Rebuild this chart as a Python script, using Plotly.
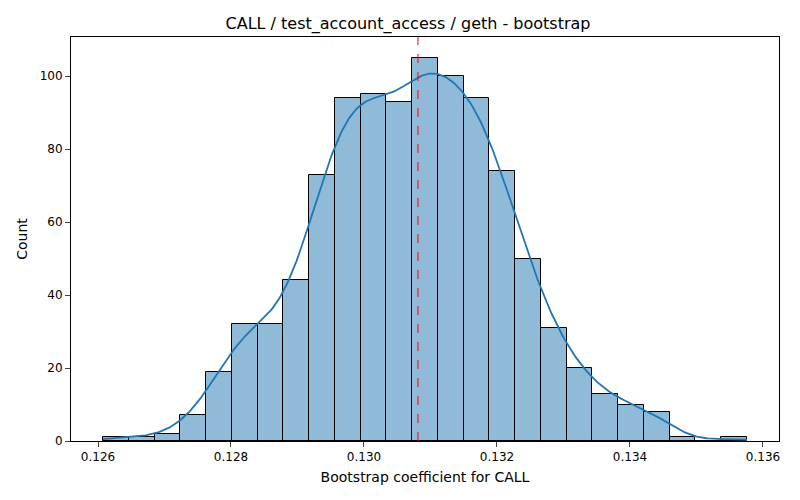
import numpy as np
import plotly.graph_objects as go

counts = [1, 1, 2, 7, 19, 32, 32, 44, 73, 94, 95, 93, 105, 100, 94, 74, 50, 31, 20, 13, 10, 8, 1, 0, 1]
x_start = 0.126075
x_end = 0.135759
mean_line = 0.130812
title = "CALL / test_account_access / geth - bootstrap"
xlabel = "Bootstrap coefficient for CALL"
ylabel = "Count"

nb = len(counts)
w = (x_end - x_start) / nb
centers = x_start + w * (np.arange(nb) + 0.5)
cnt = np.array(counts, float)
n = cnt.sum()
mu = (centers * cnt).sum() / n
sd = np.sqrt(((centers - mu) ** 2 * cnt).sum() / (n - 1))
bw = sd * n ** (-0.2) * 0.9
xs = np.linspace(x_start, x_end, 400)
dens = (cnt[None, :] * np.exp(-0.5 * ((xs[:, None] - centers[None, :]) / bw) ** 2)).sum(1) / (n * bw * np.sqrt(2 * np.pi))
ys = dens * n * w

fig = go.Figure()
fig.add_bar(x=centers, y=counts, width=w, marker=dict(color="rgba(31,119,180,0.5)", line=dict(color="black", width=1)))
fig.add_scatter(x=xs, y=ys, mode="lines", line=dict(color="#1f77b4", width=1.8))
fig.add_shape(type="line", x0=mean_line, x1=mean_line, y0=0, y1=1, yref="paper", line=dict(color="red", dash="dash", width=1))
fig.update_layout(
    width=800, height=500, showlegend=False, plot_bgcolor="white", paper_bgcolor="white",
    margin=dict(l=63, r=29, t=29, b=67), bargap=0,
    font=dict(family="DejaVu Sans", size=12, color="black"),
    title=dict(text=title, x=0.5, xanchor="center", y=0.97, yanchor="middle", font=dict(size=16)),
)
fig.update_xaxes(range=[0.125594, 0.136241], tickvals=[0.126, 0.128, 0.130, 0.132, 0.134, 0.136], tickformat=".3f",
                 showline=True, mirror=True, linecolor="black", ticks="outside", showgrid=False, zeroline=False,
                 title=dict(text=xlabel, standoff=8))
fig.update_yaxes(range=[0, 110.7], tickvals=[0, 20, 40, 60, 80, 100],
                 showline=True, mirror=True, linecolor="black", ticks="outside", showgrid=False, zeroline=False,
                 title=dict(text=ylabel, standoff=8))
fig.write_html("out.html")
